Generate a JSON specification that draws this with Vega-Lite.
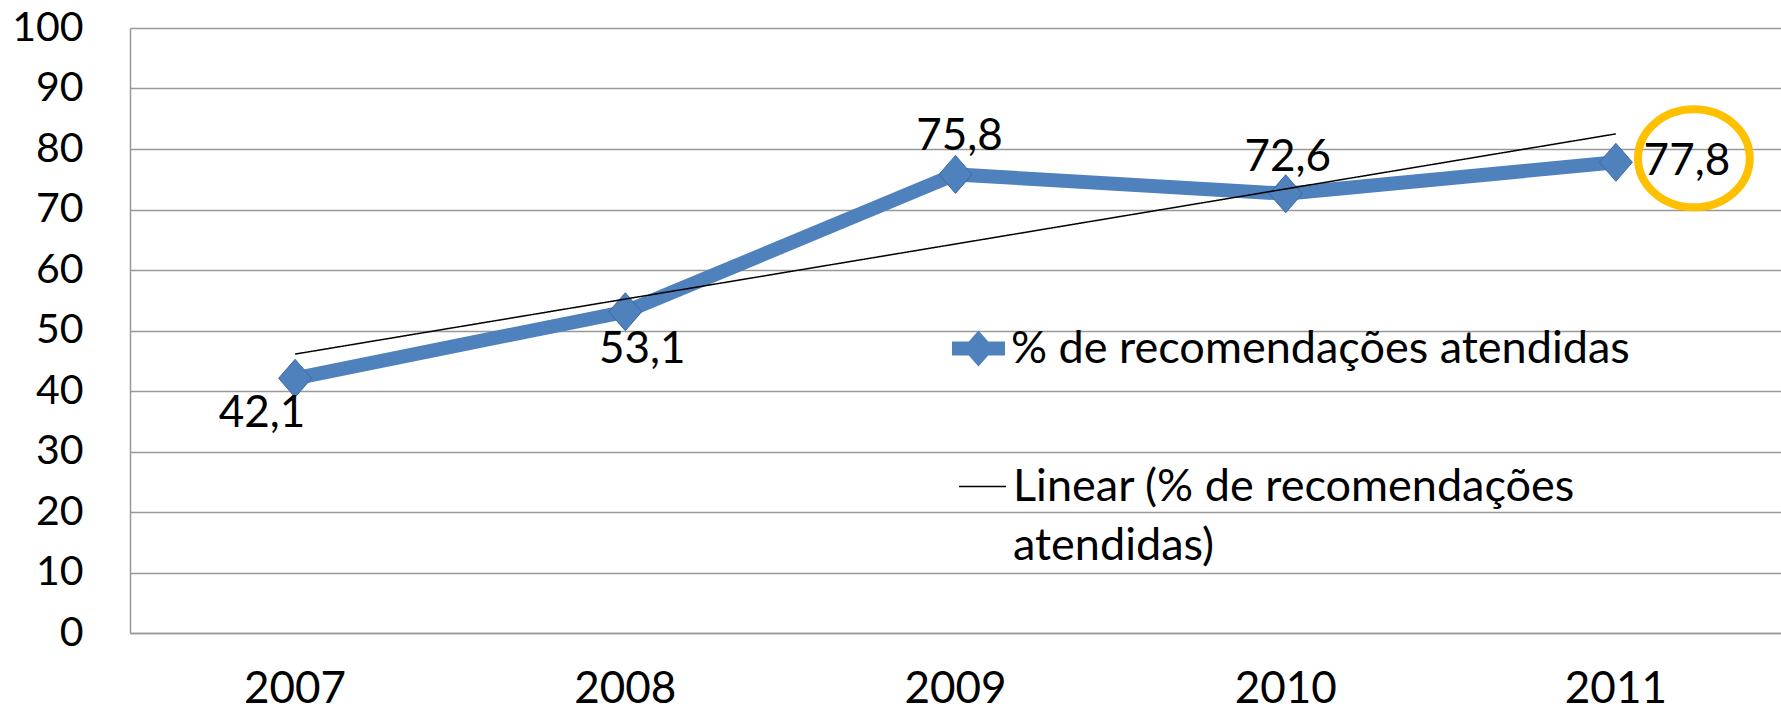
{
  "$schema": "https://vega.github.io/schema/vega-lite/v6.json",
  "width": 1651,
  "height": 605,
  "autosize": {"type": "none"},
  "padding": {"left": 130, "top": 28, "right": 0, "bottom": 78},
  "background": "white",
  "config": {"view": {"stroke": null}, "font": "Lato"},
  "datasets": {
    "main": [
      {"ano": "2007", "valor": 42.1, "rotulo": "42,1", "serie": "% de recomendações atendidas"},
      {"ano": "2008", "valor": 53.1, "rotulo": "53,1", "serie": "% de recomendações atendidas"},
      {"ano": "2009", "valor": 75.8, "rotulo": "75,8", "serie": "% de recomendações atendidas"},
      {"ano": "2010", "valor": 72.6, "rotulo": "72,6", "serie": "% de recomendações atendidas"},
      {"ano": "2011", "valor": 77.8, "rotulo": "77,8", "serie": "% de recomendações atendidas"}
    ],
    "trend": [
      {"ano": "2007", "valor": 46.1, "serie": "Linear (% de recomendações atendidas)"},
      {"ano": "2011", "valor": 82.5, "serie": "Linear (% de recomendações atendidas)"}
    ]
  },
  "encoding": {
    "x": {
      "field": "ano", "type": "ordinal",
      "scale": {"type": "band", "domain": ["2007", "2008", "2009", "2010", "2011"], "paddingInner": 0, "paddingOuter": 0},
      "axis": {"title": null, "labelAngle": 0, "labelFont": "Lato", "labelFontSize": 44, "labelColor": "black", "ticks": false, "domainColor": "#999999", "domainWidth": 1.5, "labelPadding": 34, "grid": false}
    },
    "y": {
      "field": "valor", "type": "quantitative",
      "scale": {"domain": [0, 100], "nice": false},
      "axis": {"title": null, "values": [0, 10, 20, 30, 40, 50, 60, 70, 80, 90, 100], "labelFont": "Lato", "labelFontSize": 41, "labelColor": "black", "ticks": false, "labelPadding": 47, "domainColor": "#999999", "domainWidth": 1.5, "gridColor": "#999999", "gridWidth": 1.5}
    }
  },
  "layer": [
    {
      "data": {"name": "main"},
      "mark": {"type": "line", "strokeWidth": 14},
      "encoding": {
        "color": {
          "field": "serie", "type": "nominal",
          "scale": {"range": ["#4F81BD"]},
          "legend": {
            "title": null, "orient": "none", "legendX": 822, "legendY": 294, "padding": 0,
            "symbolType": "M-1,-0.26L1,-0.26L1,0.26L-1,0.26Z M0,-0.68L0.6,0L0,0.68L-0.6,0Z",
            "symbolSize": 2809, "symbolStrokeWidth": 0,
            "labelFont": "Lato", "labelFontSize": 45, "labelColor": "black", "labelLimit": 2000, "labelOffset": 6,
            "encode": {"symbols": {"update": {"fill": {"value": "#4F81BD"}, "fillOpacity": {"value": 1}, "strokeWidth": {"value": 0}}}}
          }
        }
      }
    },
    {
      "data": {"name": "main"},
      "mark": {"type": "point", "shape": "M0,-1.15L1,0L0,1.15L-1,0Z", "size": 1089, "filled": true, "fill": "#4F81BD", "stroke": "#3B6AA3", "strokeWidth": 1, "opacity": 1}
    },
    {
      "data": {"name": "trend"},
      "mark": {"type": "line", "color": "black", "strokeWidth": 1.5},
      "encoding": {
        "strokeDash": {
          "field": "serie", "type": "nominal",
          "scale": {"range": [[1, 0]]},
          "legend": {
            "title": null, "orient": "none", "legendX": 828, "legendY": 434, "padding": 0,
            "symbolType": "stroke", "symbolSize": 2209, "symbolStrokeColor": "black", "symbolStrokeWidth": 1.5,
            "labelFont": "Lato", "labelFontSize": 45, "labelColor": "black", "labelLimit": 2000, "labelOffset": 6,
            "labelExpr": "['Linear (% de recomendações', 'atendidas)']",
            "encode": {"labels": {"update": {"lineHeight": {"value": 59}}}}
          }
        }
      }
    },
    {
      "data": {"name": "main"},
      "transform": [{"filter": "datum.ano == '2007'"}],
      "mark": {"type": "text", "font": "Lato", "fontSize": 44, "color": "black", "dx": -33, "dy": 36},
      "encoding": {"text": {"field": "rotulo"}}
    },
    {
      "data": {"name": "main"},
      "transform": [{"filter": "datum.ano == '2008'"}],
      "mark": {"type": "text", "font": "Lato", "fontSize": 44, "color": "black", "dx": 17, "dy": 38},
      "encoding": {"text": {"field": "rotulo"}}
    },
    {
      "data": {"name": "main"},
      "transform": [{"filter": "datum.ano == '2009'"}],
      "mark": {"type": "text", "font": "Lato", "fontSize": 44, "color": "black", "dx": 4, "dy": -37},
      "encoding": {"text": {"field": "rotulo"}}
    },
    {
      "data": {"name": "main"},
      "transform": [{"filter": "datum.ano == '2010'"}],
      "mark": {"type": "text", "font": "Lato", "fontSize": 44, "color": "black", "dx": 2, "dy": -36},
      "encoding": {"text": {"field": "rotulo"}}
    },
    {
      "data": {"name": "main"},
      "transform": [{"filter": "datum.ano == '2011'"}],
      "mark": {"type": "text", "font": "Lato", "fontSize": 44, "color": "black", "dx": 71, "dy": 0},
      "encoding": {"text": {"field": "rotulo"}}
    },
    {
      "data": {"name": "main"},
      "transform": [{"filter": "datum.ano == '2011'"}],
      "mark": {"type": "point", "shape": "M-1.14,0A1.14,1,0,1,1,1.14,0A1.14,1,0,1,1,-1.14,0Z", "size": 9604, "filled": false, "stroke": "#FFC000", "strokeWidth": 8, "opacity": 1, "xOffset": 78, "yOffset": -4}
    }
  ]
}
